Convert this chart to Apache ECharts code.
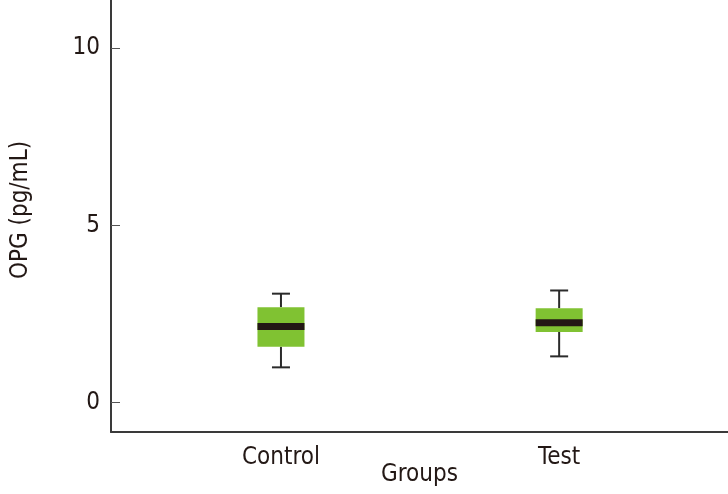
<!DOCTYPE html>
<html>
<head>
<meta charset="utf-8">
<script src="https://cdn.jsdelivr.net/npm/echarts@6/dist/echarts.min.js"></script>
<style>
html,body{margin:0;padding:0;background:#fff;}
#chart{width:728px;height:494px;}
</style>
</head>
<body>
<div id="chart"></div>
<script>
const categories = ['Control', 'Test'];
const mins    = [0.99, 1.30];
const q1s     = [1.57, 1.99];
const medians = [2.14, 2.25];
const q3s     = [2.69, 2.66];
const maxs    = [3.07, 3.16];
const yTicks  = [0, 5, 10];

const FONT = "'Liberation Sans Narrow', 'DejaVu Sans Condensed', 'Liberation Sans', sans-serif";
const TEXT = '#231815';
const AXIS = '#3a3a3a';
const GREEN = '#80c232';

const boxData = categories.map((c, i) => [i + 1, mins[i], q1s[i], medians[i], q3s[i], maxs[i]]);

function renderBox(params, api) {
  const x = api.value(0);
  const pMin = api.coord([x, api.value(1)]);
  const pQ1 = api.coord([x, api.value(2)]);
  const pMed = api.coord([x, api.value(3)]);
  const pQ3 = api.coord([x, api.value(4)]);
  const pMax = api.coord([x, api.value(5)]);
  const cx = pMed[0];
  const boxW = 47, capW = 18, medH = 7;
  const lineStyle = { stroke: '#2b2b2b', lineWidth: 2 };
  return {
    type: 'group',
    children: [
      { type: 'line', shape: { x1: cx, y1: pQ3[1], x2: cx, y2: pMax[1] }, style: lineStyle },
      { type: 'line', shape: { x1: cx, y1: pQ1[1], x2: cx, y2: pMin[1] }, style: lineStyle },
      { type: 'line', shape: { x1: cx - capW / 2, y1: pMax[1], x2: cx + capW / 2, y2: pMax[1] }, style: lineStyle },
      { type: 'line', shape: { x1: cx - capW / 2, y1: pMin[1], x2: cx + capW / 2, y2: pMin[1] }, style: lineStyle },
      { type: 'rect', shape: { x: cx - boxW / 2, y: pQ3[1], width: boxW, height: pQ1[1] - pQ3[1] }, style: { fill: GREEN } },
      { type: 'rect', shape: { x: cx - boxW / 2, y: pMed[1] - medH / 2, width: boxW, height: medH }, style: { fill: TEXT } }
    ]
  };
}

const chart = echarts.init(document.getElementById('chart'), null, { renderer: 'canvas' });
chart.setOption({
  animation: false,
  backgroundColor: '#fff',
  textStyle: { fontFamily: FONT },
  grid: { left: 111, right: 0, top: 0, bottom: 62, containLabel: false, outerBoundsMode: 'none' },
  xAxis: {
    type: 'value',
    min: 0.389,
    max: 2.607,
    name: 'Groups',
    nameLocation: 'middle',
    nameGap: 31,
    nameMoveOverlap: false,
    nameTextStyle: { fontSize: 24, color: TEXT, fontFamily: FONT },
    axisLine: { show: true, onZero: false, lineStyle: { color: AXIS, width: 2 } },
    axisTick: { show: false },
    splitLine: { show: false },
    axisLabel: {
      customValues: [1, 2],
      formatter: v => categories[Math.round(v) - 1] || '',
      fontSize: 24,
      color: TEXT,
      fontFamily: FONT,
      margin: 14
    }
  },
  yAxis: {
    type: 'value',
    min: -0.835,
    max: 11.36,
    name: 'OPG (pg/mL)',
    nameLocation: 'middle',
    nameGap: 78,
    nameMoveOverlap: false,
    nameTextStyle: { fontSize: 24, color: TEXT, fontFamily: FONT, padding: [0, 0, 0, 12] },
    axisLine: { show: true, onZero: false, lineStyle: { color: AXIS, width: 2 } },
    axisTick: { show: true, inside: true, length: 9, customValues: yTicks, lineStyle: { color: '#555', width: 1 } },
    splitLine: { show: false },
    axisLabel: {
      customValues: yTicks,
      fontSize: 24,
      color: TEXT,
      fontFamily: FONT,
      margin: 11
    }
  },
  series: [{
    type: 'custom',
    renderItem: renderBox,
    encode: { x: 0, y: [1, 2, 3, 4, 5] },
    data: boxData
  }]
});
</script>
</body>
</html>
